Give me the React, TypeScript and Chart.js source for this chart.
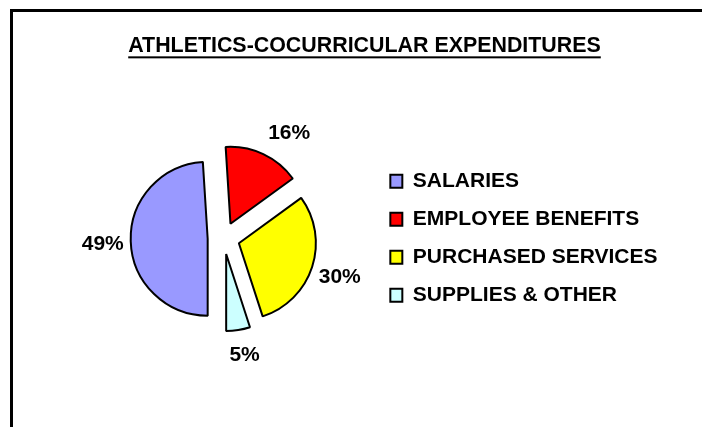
import { useEffect, useRef } from "react";
import { Chart, registerables } from "chart.js";

Chart.register(...registerables);

// ---- data ----
const categories = ["SALARIES", "EMPLOYEE BENEFITS", "PURCHASED SERVICES", "SUPPLIES & OTHER"];
const percentValues = [49, 16, 30, 5];
const sliceColors = ["#9999FF", "#FF0000", "#FFFF00", "#CCFFFF"];
const chartTitle = "ATHLETICS-COCURRICULAR EXPENDITURES";

// ---- styling ----
const FONT = "'Liberation Sans', Arial, Helvetica, sans-serif";
const EXPLODE = 16;
const LABEL_GAP = 28;
const LABEL_NUDGE = [
  [0, 2],
  [14, 4],
  [1, 2],
  [2, -3],
];

const explodePlugin = {
  id: "explodeSlices",
  afterDatasetUpdate(chart: any, args: any) {
    args.meta.data.forEach((el: any) => {
      const mid = (el.startAngle + el.endAngle) / 2;
      el.x += Math.cos(mid) * EXPLODE;
      el.y += Math.sin(mid) * EXPLODE;
    });
  },
};

const pctLabelPlugin = {
  id: "pctLabels",
  afterDatasetsDraw(chart: any) {
    const ctx = chart.ctx;
    const meta = chart.getDatasetMeta(0);
    ctx.save();
    ctx.font = `bold 21px ${FONT}`;
    ctx.fillStyle = "#000";
    ctx.textAlign = "center";
    ctx.textBaseline = "middle";
    meta.data.forEach((el: any, i: number) => {
      const mid = (el.startAngle + el.endAngle) / 2;
      const r = el.outerRadius + LABEL_GAP;
      const x = el.x + Math.cos(mid) * r + LABEL_NUDGE[i][0];
      const y = el.y + Math.sin(mid) * r + LABEL_NUDGE[i][1];
      ctx.fillText(`${percentValues[i]}%`, x, y);
    });
    ctx.restore();
  },
};

const framePlugin = {
  id: "frameAndTitle",
  afterLayout(chart: any) {
    const t = chart.titleBlock;
    if (t) {
      t.left = 10;
      t.right = 719;
    }
  },
  beforeDraw(chart: any) {
    const ctx = chart.ctx;
    ctx.save();
    ctx.fillStyle = "#fff";
    ctx.fillRect(0, 0, chart.width, chart.height);
    ctx.fillStyle = "#000";
    ctx.fillRect(10, 9, chart.width, 3);
    ctx.fillRect(10, 9, 3, chart.height);
    ctx.restore();
  },
  afterDraw(chart: any) {
    const t = chart.titleBlock;
    if (!t) return;
    const ctx = chart.ctx;
    ctx.save();
    ctx.font = `bold 21.4px ${FONT}`;
    const w = ctx.measureText(chartTitle).width;
    const cx = (t.left + t.right) / 2;
    const opts = t.options;
    const yMid = t.top + opts.padding.top + (21.4 * 1.2) / 2;
    ctx.fillStyle = "#000";
    ctx.fillRect(cx - w / 2, yMid + 10.5, w, 2);
    ctx.restore();
  },
};

export default function App() {
  const ref = useRef<HTMLCanvasElement | null>(null);

  useEffect(() => {
    if (!ref.current) return;
    const chart = new Chart(ref.current, {
      type: "pie",
      data: {
        labels: categories,
        datasets: [
          {
            data: percentValues,
            backgroundColor: sliceColors,
            borderColor: "#000",
            borderWidth: 2,
          },
        ],
      },
      options: {
        responsive: false,
        animation: false,
        devicePixelRatio: 1,
        events: [],
        rotation: 180,
        radius: 77,
        layout: { padding: { left: 74, right: 34.5, top: 0, bottom: 19.2 } },
        plugins: {
          tooltip: { enabled: false },
          title: {
            display: true,
            text: chartTitle,
            color: "#000",
            font: { family: FONT, size: 21.4, weight: "bold" },
            padding: { top: 33, bottom: 10 },
          },
          legend: {
            display: true,
            position: "right",
            fullSize: false,
            align: "center",
            labels: {
              color: "#000",
              font: { family: FONT, size: 21, weight: "bold" },
              boxWidth: 12,
              boxHeight: 13,
              padding: 17,
            },
          },
        },
      },
      plugins: [framePlugin, explodePlugin, pctLabelPlugin],
    });
    return () => chart.destroy();
  }, []);

  return (
    <div style={{ position: "fixed", left: 0, top: 0, width: 702, height: 427, background: "#fff" }}>
      <canvas ref={ref} width={702} height={427} style={{ display: "block" }} />
    </div>
  );
}
